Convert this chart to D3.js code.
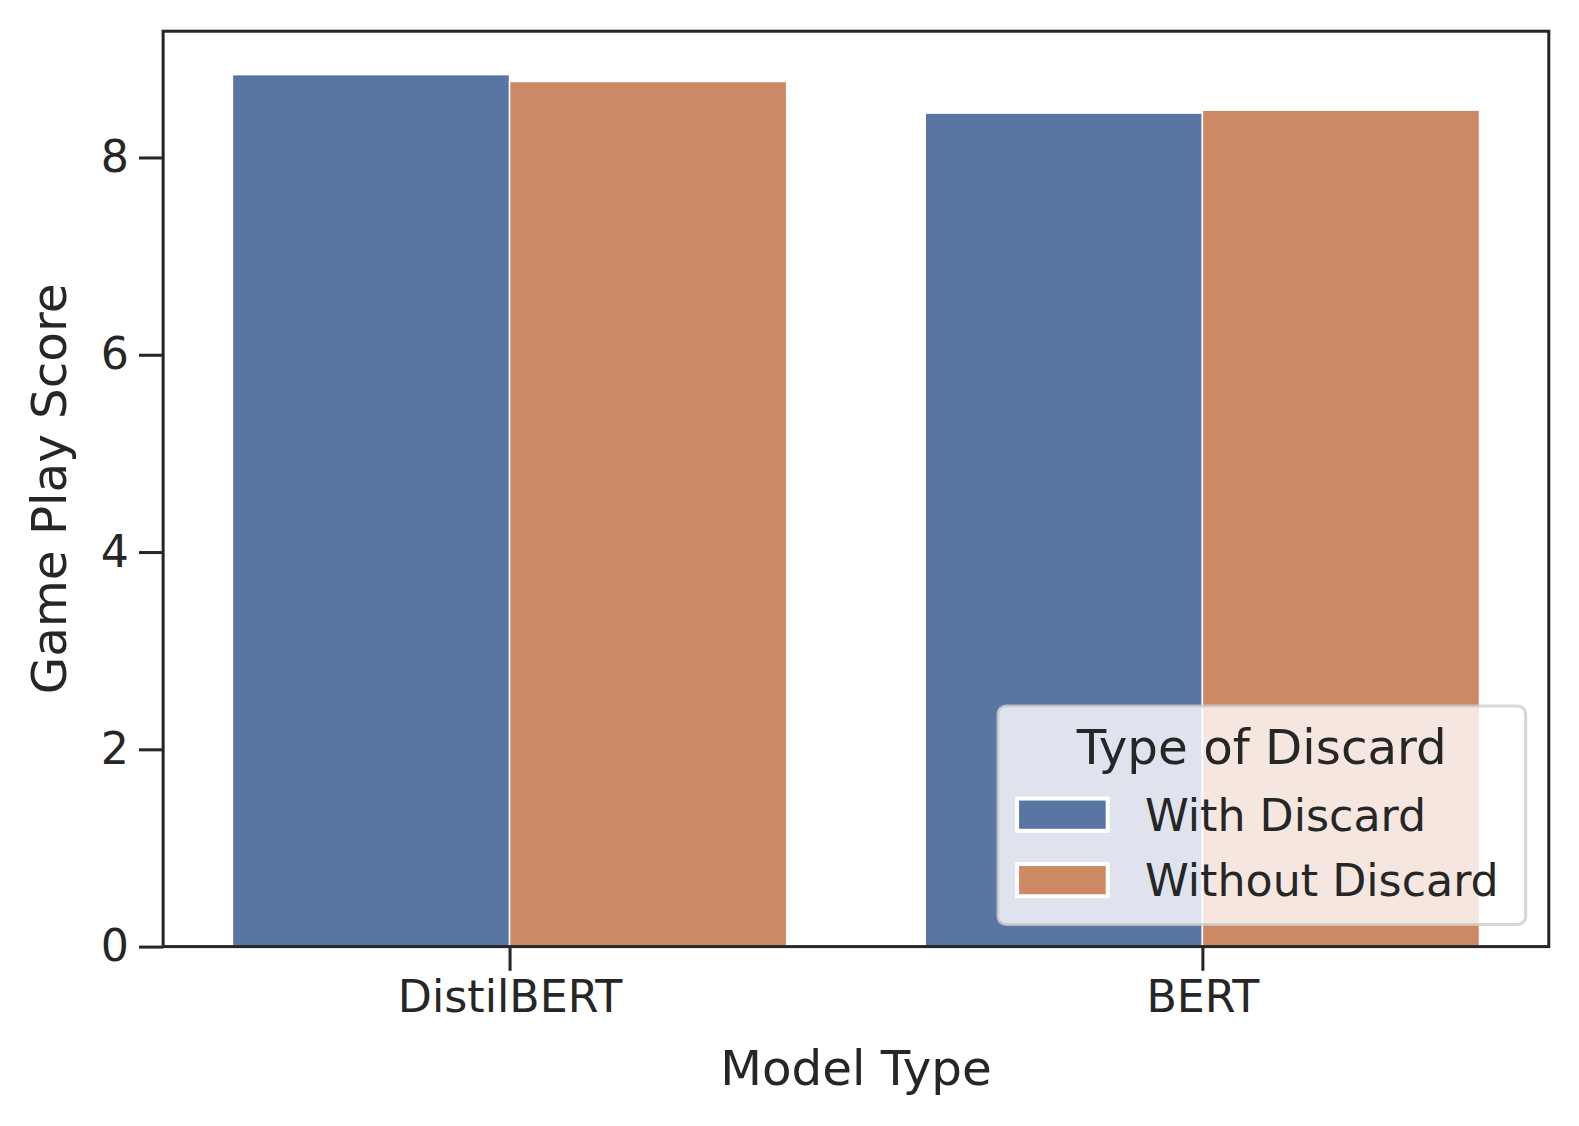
<!DOCTYPE html>
<html>
<head>
<meta charset="utf-8">
<script src="https://cdn.jsdelivr.net/npm/d3@7"></script>
<style>
  body { margin: 0; background: #fff; }
  text { font-family: "DejaVu Sans", sans-serif; fill: #262626; }
</style>
</head>
<body>
<div id="chart"></div>
<script>
// data
const models = ["DistilBERT", "BERT"];
const discardTypes = ["With Discard", "Without Discard"];
const withDiscard = [8.84, 8.45];
const withoutDiscard = [8.77, 8.48];
const yTicks = [0, 2, 4, 6, 8];
const colors = ["#5975a4", "#cc8963"];

const width = 1579, height = 1126;
const k = 1579 / 1568; // layout measured on a slightly smaller copy
const plotL = 162, plotR = 1538, plotT = 31, plotB = 940;

const svg = d3.select("#chart").append("svg")
    .attr("width", width)
    .attr("height", height)
    .append("g")
    .attr("transform", `scale(${k})`);

const x = d3.scaleLinear().domain([-0.5, models.length - 0.5]).range([plotL, plotR]);
const y = d3.scaleLinear().domain([0, 9.28]).range([plotB, plotT]);

const series = [withDiscard, withoutDiscard];
const barW = 0.4;

// bars
series.forEach((vals, s) => {
    svg.append("g").selectAll("rect")
        .data(vals)
        .enter().append("rect")
        .attr("x", (d, i) => x(i - 0.4 + s * barW))
        .attr("width", x(barW) - x(0))
        .attr("y", d => y(d))
        .attr("height", d => y(0) - y(d))
        .attr("fill", colors[s])
        .attr("stroke", "#fff")
        .attr("stroke-width", 1.5);
});

// axes
const yAxis = d3.axisLeft(y).tickValues(yTicks).tickSize(24).tickPadding(10).tickFormat(d3.format("d"));
const gy = svg.append("g").attr("transform", `translate(${plotL},0)`).call(yAxis);
gy.select(".domain").remove();
gy.selectAll("line").attr("stroke", "#262626").attr("stroke-width", 3);
gy.selectAll("text").style("font-size", "44px").attr("fill", "#262626");

const xAxis = d3.axisBottom(x).tickValues(d3.range(models.length)).tickSize(24).tickPadding(10)
    .tickFormat(i => models[i]);
const gx = svg.append("g").attr("transform", `translate(0,${plotB})`).call(xAxis);
gx.select(".domain").remove();
gx.selectAll("line").attr("stroke", "#262626").attr("stroke-width", 3);
gx.selectAll("text").style("font-size", "44px").attr("fill", "#262626");

// frame
svg.append("rect")
    .attr("x", plotL).attr("y", plotT)
    .attr("width", plotR - plotL).attr("height", plotB - plotT)
    .attr("fill", "none")
    .attr("stroke", "#262626")
    .attr("stroke-width", 3);

// axis labels
svg.append("text")
    .attr("x", (plotL + plotR) / 2).attr("y", 1077)
    .attr("text-anchor", "middle")
    .style("font-size", "48px")
    .text("Model Type");

svg.append("text")
    .attr("transform", `translate(66,${(plotT + plotB) / 2}) rotate(-90)`)
    .attr("text-anchor", "middle")
    .style("font-size", "48px")
    .text("Game Play Score");

// legend
const lg = svg.append("g").attr("transform", "translate(991,701)");
lg.append("rect")
    .attr("width", 524).attr("height", 217)
    .attr("rx", 8)
    .attr("fill", "#fff").attr("fill-opacity", 0.8)
    .attr("stroke", "#cccccc").attr("stroke-opacity", 0.8)
    .attr("stroke-width", 3);
lg.append("text")
    .attr("x", 262).attr("y", 58)
    .attr("text-anchor", "middle")
    .style("font-size", "48px")
    .text("Type of Discard");
discardTypes.forEach((name, i) => {
    lg.append("rect")
        .attr("x", 19).attr("y", 92 + i * 65)
        .attr("width", 90).attr("height", 32)
        .attr("fill", colors[i])
        .attr("stroke", "#fff").attr("stroke-width", 4);
    lg.append("text")
        .attr("x", 146).attr("y", 124 + i * 65)
        .style("font-size", "44px")
        .text(name);
});
</script>
</body>
</html>
